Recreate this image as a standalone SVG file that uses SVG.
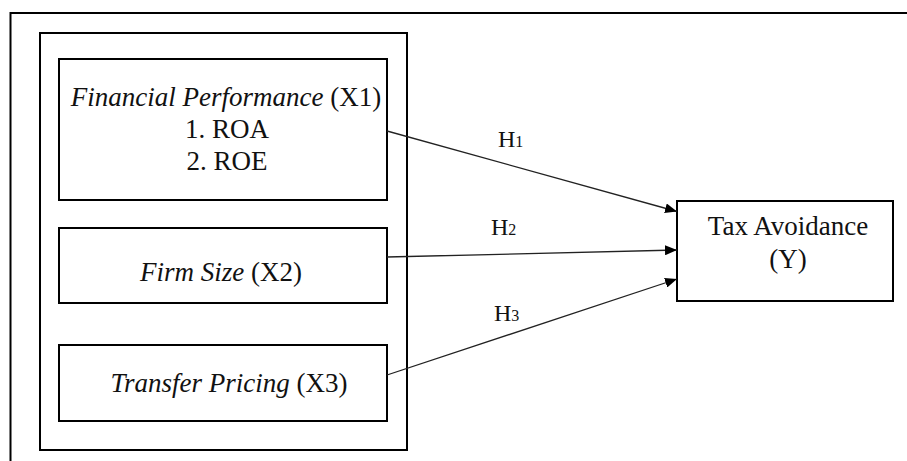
<svg xmlns="http://www.w3.org/2000/svg" width="907" height="461" viewBox="0 0 907 461">
<style>
.box{fill:#fff;stroke:#000;stroke-width:2}
.t{font-family:"Liberation Serif","Times New Roman",serif;font-size:27px;fill:#111;text-anchor:middle}
.i{font-style:italic}
.h{font-family:"Liberation Serif","Times New Roman",serif;font-size:24px;fill:#111}
.s{font-size:16px}
.c{stroke:#222;stroke-width:1.3;fill:none;marker-end:url(#ah)}
</style>
<defs>
<marker id="ah" viewBox="0 0 12 10" refX="12" refY="5" markerWidth="12" markerHeight="10" markerUnits="userSpaceOnUse" orient="auto">
<path d="M0,0 L12,5 L0,10 z" fill="#000"/>
</marker>
</defs>
<rect width="907" height="461" fill="#fff"/>
<path d="M10.5,461 V13 H907" fill="none" stroke="#000" stroke-width="2"/>
<g id="container"><rect class="box" x="40" y="33" width="367" height="417"/></g>
<g id="x1">
<rect class="box" x="59" y="59" width="328" height="141"/>
<text class="t" x="226" y="106"><tspan class="i">Financial Performance</tspan> (X1)</text>
<text class="t" x="227" y="138">1. ROA</text>
<text class="t" x="227" y="170">2. ROE</text>
</g>
<g id="x2">
<rect class="box" x="59" y="228" width="328" height="75"/>
<text class="t" x="221" y="281"><tspan class="i">Firm Size</tspan> (X2)</text>
</g>
<g id="x3">
<rect class="box" x="59" y="345" width="328" height="76"/>
<text class="t" x="229" y="392"><tspan class="i">Transfer Pricing</tspan> (X3)</text>
</g>
<g id="y">
<rect class="box" x="677" y="201" width="216" height="100"/>
<text class="t" x="788" y="235">Tax Avoidance</text>
<text class="t" x="788" y="268">(Y)</text>
</g>
<g id="connectors">
<path class="c" d="M387,131 L677,211.5"/>
<path class="c" d="M387,257 L677,250"/>
<path class="c" d="M387,375 L677,279"/>
<text class="h" x="498" y="147">H<tspan class="s">1</tspan></text>
<text class="h" x="491" y="235">H<tspan class="s">2</tspan></text>
<text class="h" x="494" y="321">H<tspan class="s">3</tspan></text>
</g>
</svg>
